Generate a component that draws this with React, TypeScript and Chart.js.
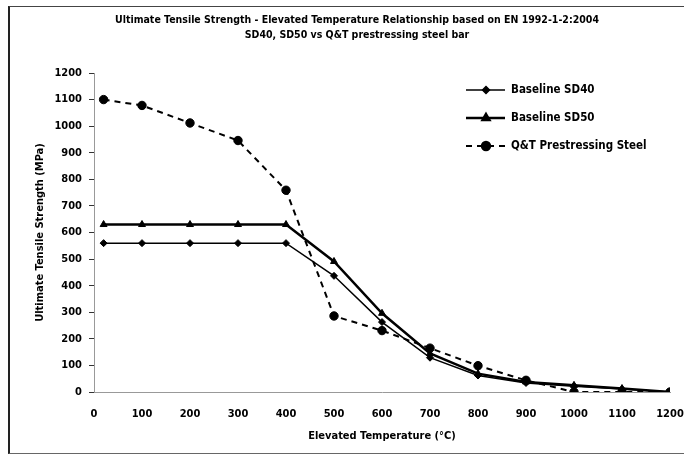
import React, { useEffect, useRef } from 'react';
import { Chart, registerables } from 'chart.js';
import { drawPoint } from 'chart.js/helpers';

Chart.register(...registerables);

const temperatures = [20, 100, 200, 300, 400, 500, 600, 700, 800, 900, 1000, 1100, 1200];
const sd40Values = [560, 560, 560, 560, 560, 437, 263, 129, 62, 34, 22, 11, 0];
const sd50Values = [630, 630, 630, 630, 630, 491, 296, 145, 69, 38, 25, 13, 0];
const qtValues = [1100, 1078, 1012, 946, 759, 286, 231, 165, 99, 44, 0, 0, 0];
const seriesNames = ['Baseline SD40', 'Baseline SD50', 'Q&T Prestressing Steel'];
const titleLines = [
  'Ultimate Tensile Strength - Elevated Temperature Relationship based on EN 1992-1-2:2004',
  'SD40, SD50 vs Q&T prestressing steel bar',
];
const xAxisTitle = 'Elevated Temperature (\u00B0C)';
const yAxisTitle = 'Ultimate Tensile Strength (MPa)';

const FONT = "'DejaVu Sans Condensed', 'Open Sans', sans-serif";

const toPoints = (vals: number[]) => temperatures.map((t, i) => ({ x: t, y: vals[i] }));

const titlePlugin = {
  id: 'customTitle',
  afterDraw(chart: any) {
    const ctx = chart.ctx;
    ctx.save();
    ctx.fillStyle = '#000';
    ctx.font = `bold 10.5px ${FONT}`;
    ctx.textAlign = 'center';
    ctx.textBaseline = 'middle';
    titleLines.forEach((line, i) => ctx.fillText(line, 357, 20 + i * 15));
    ctx.restore();
  },
};

const legendPlugin = {
  id: 'insideLegend',
  afterDraw(chart: any) {
    const ctx = chart.ctx;
    ctx.save();
    chart.data.datasets.forEach((ds: any, i: number) => {
      const y = 90 + i * 28;
      ctx.beginPath();
      ctx.strokeStyle = '#000';
      ctx.lineWidth = ds.borderWidth;
      ctx.setLineDash(ds.borderDash || []);
      ctx.moveTo(466, y);
      ctx.lineTo(505, y);
      ctx.stroke();
      ctx.setLineDash([]);
      drawPoint(ctx, { pointStyle: ds.pointStyle, radius: ds.pointRadius, borderWidth: 1, rotation: 0 }, 486, y);
      ctx.fillStyle = '#000';
      ctx.font = `bold 11.5px ${FONT}`;
      ctx.textBaseline = 'middle';
      ctx.textAlign = 'left';
      ctx.fillText(ds.label, 511, y);
    });
    ctx.restore();
  },
};

export default function App() {
  const canvasRef = useRef<HTMLCanvasElement>(null);

  useEffect(() => {
    if (!canvasRef.current) return;
    const chart = new Chart(canvasRef.current, {
      type: 'line',
      data: {
        datasets: [
          {
            label: seriesNames[0],
            data: toPoints(sd40Values),
            borderColor: '#000',
            backgroundColor: '#000',
            borderWidth: 1.5,
            pointStyle: 'rectRot',
            pointRadius: 3.5,
            pointBorderWidth: 1,
          },
          {
            label: seriesNames[1],
            data: toPoints(sd50Values),
            borderColor: '#000',
            backgroundColor: '#000',
            borderWidth: 2.5,
            pointStyle: 'triangle',
            pointRadius: 4,
            pointBorderWidth: 1,
          },
          {
            label: seriesNames[2],
            data: toPoints(qtValues),
            borderColor: '#000',
            backgroundColor: '#000',
            borderWidth: 2,
            borderDash: [6, 5],
            pointStyle: 'circle',
            pointRadius: 4.2,
            pointBorderWidth: 1,
          },
        ] as any,
      },
      options: {
        animation: false,
        responsive: false,
        maintainAspectRatio: false,
        layout: { padding: { left: 0, right: 14, top: 73, bottom: 0 } },
        plugins: {
          legend: { display: false },
          tooltip: { enabled: false },
          title: { display: false },
        },
        scales: {
          x: {
            type: 'linear',
            min: 0,
            max: 1200,
            ticks: {
              stepSize: 100,
              color: '#000',
              font: { family: FONT, size: 11, weight: 'bold' },
              padding: 16,
              callback: (v: any) => String(v),
            },
            grid: { display: true, drawOnChartArea: false, drawTicks: false, color: '#888' },
            border: { display: true, color: '#999', dash: [2, 3] },
            title: {
              display: true,
              text: xAxisTitle,
              color: '#000',
              font: { family: FONT, size: 11, weight: 'bold' },
              padding: { top: 6, bottom: 17 },
            },
            afterFit(scale: any) {
              scale.height = 68;
              scale.paddingRight = 0;
              scale.paddingLeft = 0;
            },
          },
          y: {
            min: 0,
            max: 1200,
            ticks: {
              stepSize: 100,
              color: '#000',
              font: { family: FONT, size: 11, weight: 'bold' },
              padding: 7,
              callback: (v: any) => String(v),
            },
            grid: { display: true, drawOnChartArea: false, drawTicks: true, tickLength: 5, color: '#333' },
            border: { display: true, color: '#999', dash: [2, 3] },
            title: {
              display: true,
              text: yAxisTitle,
              color: '#000',
              font: { family: FONT, size: 11, weight: 'bold' },
              padding: { top: 34, bottom: 0 },
            },
            afterFit(scale: any) {
              scale.width = 94;
            },
          },
        },
      } as any,
      plugins: [titlePlugin, legendPlugin],
    });
    return () => chart.destroy();
  }, []);

  return (
    <div style={{ position: 'fixed', left: 0, top: 0, width: 684, height: 460, background: '#fff' }}>
      <div
        style={{
          position: 'absolute',
          left: 8,
          top: 6,
          width: 676,
          height: 448,
          borderLeft: '2px solid #222',
          borderTop: '1px solid #444',
          borderBottom: '1px solid #666',
          boxSizing: 'border-box',
        }}
      />
      <canvas ref={canvasRef} width={684} height={460} style={{ position: 'absolute', left: 0, top: 0 }} />
    </div>
  );
}
